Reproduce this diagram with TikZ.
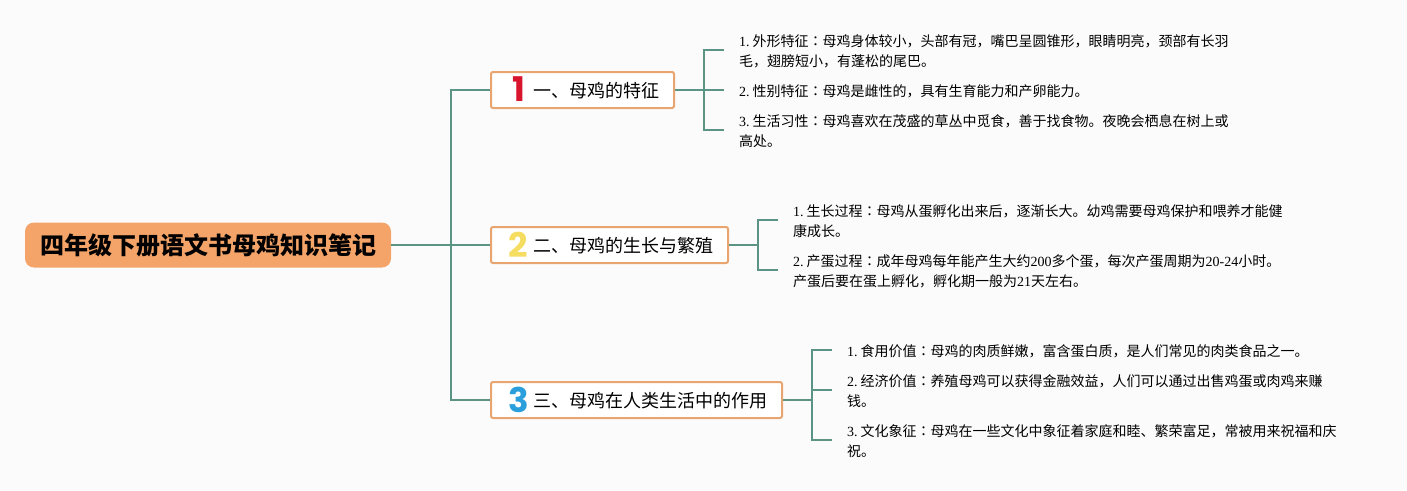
\documentclass[tikz,border=0pt]{standalone}
\usepackage{fontspec}
\setmainfont{Liberation Serif}
\newfontfamily\cjk{Noto Sans CJK SC}
\newfontfamily\cjktc{Noto Sans CJK TC}
\newfontfamily\numfont{Poppins}
\newcommand{\zh}[1]{{\cjk #1}}
\newcommand{\cl}{{\cjktc ：}}
\newcommand{\sep}{\hspace{3pt}}
\definecolor{bg}{HTML}{FBFBFB}
\definecolor{linkc}{HTML}{5B9485}
\definecolor{rootc}{HTML}{F4A468}
\definecolor{boxc}{HTML}{E8A56F}
\definecolor{numa}{HTML}{D9152E}
\definecolor{numb}{HTML}{F5DD62}
\definecolor{numc}{HTML}{2B9FDB}
\tikzset{
  x=1pt,y=-1pt,
  link/.style={draw=linkc,line width=2pt},
  rootbox/.style={fill=rootc,rounded corners=9pt,inner sep=0pt,minimum height=45pt,minimum width=366pt,font=\cjk\fontsize{24}{28}\selectfont\bfseries},
  topicbox/.style={draw=boxc,fill=white,line width=2pt,rounded corners=2pt,inner sep=0pt,minimum height=36pt},
  topictext/.style={inner sep=0pt,anchor=west,font=\cjk\fontsize{18}{22}\selectfont},
  numtext/.style={inner sep=0pt,font=\numfont\fontsize{34}{34}\selectfont\bfseries},
  leaf/.style={inner sep=0pt,anchor=north west,align=left,font=\fontsize{14}{20}\selectfont},
}
\begin{document}
\begin{tikzpicture}
\fill[bg] (0,0) rectangle (1407,490);
\useasboundingbox (0,0) rectangle (1407,490);
\node[rootbox] (root) at (208,245) {四年级下册语文书母鸡知识笔记};
\node[topicbox,minimum width=183pt] (t1) at (582.5,90) {};
\node[topicbox,minimum width=237pt] (t2) at (609.5,245) {};
\node[topicbox,minimum width=291pt] (t3) at (636.5,400) {};
\node[numtext,text=numa] (n1) at (518.5,89.5) {1};
\node[numtext,text=numb] (n2) at (518,245) {2};
\node[numtext,text=numc] (n3) at (518.5,400) {3};
\node[topictext] (l1) at (533,90.5) {一、母鸡的特征};
\node[topictext] (l2) at (533,245.5) {二、母鸡的生长与繁殖};
\node[topictext] (l3) at (533,400.5) {三、母鸡在人类生活中的作用};
\coordinate (j0) at (451,245);
\coordinate (j1) at (704,90);
\coordinate (j2) at (758,245);
\coordinate (j3) at (812,400);
\coordinate (e11) at (724,50);
\coordinate (e12) at (724,90);
\coordinate (e13) at (724,130);
\coordinate (e21) at (778,220);
\coordinate (e22) at (778,270);
\coordinate (e31) at (832,350);
\coordinate (e32) at (832,390);
\coordinate (e33) at (832,440);
\draw[link] (root.east) -- (t2.west);
\draw[link] (t1.west) -| (j0) |- (t3.west);
\draw[link] (t1.east) -- (e12);
\draw[link] (e11) -| (j1) |- (e13);
\draw[link] (t2.east) -- (j2);
\draw[link] (e21) -| (j2) |- (e22);
\draw[link] (t3.east) -- (j3);
\draw[link] (e31) -| (j3) |- (e33);
\draw[link] (j3 |- e32) -- (e32);
\node[leaf] (a1) at (739,34) {1.\sep\zh{外形特征}\cl\zh{母鸡身体较小，头部有冠，嘴巴呈圆锥形，眼睛明亮，颈部有长羽}\\\zh{毛，翅膀短小，有蓬松的尾巴。}};
\node[leaf] (a2) at (739,84) {2.\sep\zh{性别特征}\cl\zh{母鸡是雌性的，具有生育能力和产卵能力。}};
\node[leaf] (a3) at (739,114) {3.\sep\zh{生活习性}\cl\zh{母鸡喜欢在茂盛的草丛中觅食，善于找食物。夜晚会栖息在树上或}\\\zh{高处。}};
\node[leaf] (b1) at (793,204) {1.\sep\zh{生长过程}\cl\zh{母鸡从蛋孵化出来后，逐渐长大。幼鸡需要母鸡保护和喂养才能健}\\\zh{康成长。}};
\node[leaf] (b2) at (793,254) {2.\sep\zh{产蛋过程}\cl\zh{成年母鸡每年能产生大约}200\zh{多个蛋，每次产蛋周期为}20-24\zh{小时。}\\\zh{产蛋后要在蛋上孵化，孵化期一般为}21\zh{天左右。}};
\node[leaf] (c1) at (847,344) {1.\sep\zh{食用价值}\cl\zh{母鸡的肉质鲜嫩，富含蛋白质，是人们常见的肉类食品之一。}};
\node[leaf] (c2) at (847,374) {2.\sep\zh{经济价值}\cl\zh{养殖母鸡可以获得金融效益，人们可以通过出售鸡蛋或肉鸡来赚}\\\zh{钱。}};
\node[leaf] (c3) at (847,424) {3.\sep\zh{文化象征}\cl\zh{母鸡在一些文化中象征着家庭和睦、繁荣富足，常被用来祝福和庆}\\\zh{祝。}};
\end{tikzpicture}
\end{document}
